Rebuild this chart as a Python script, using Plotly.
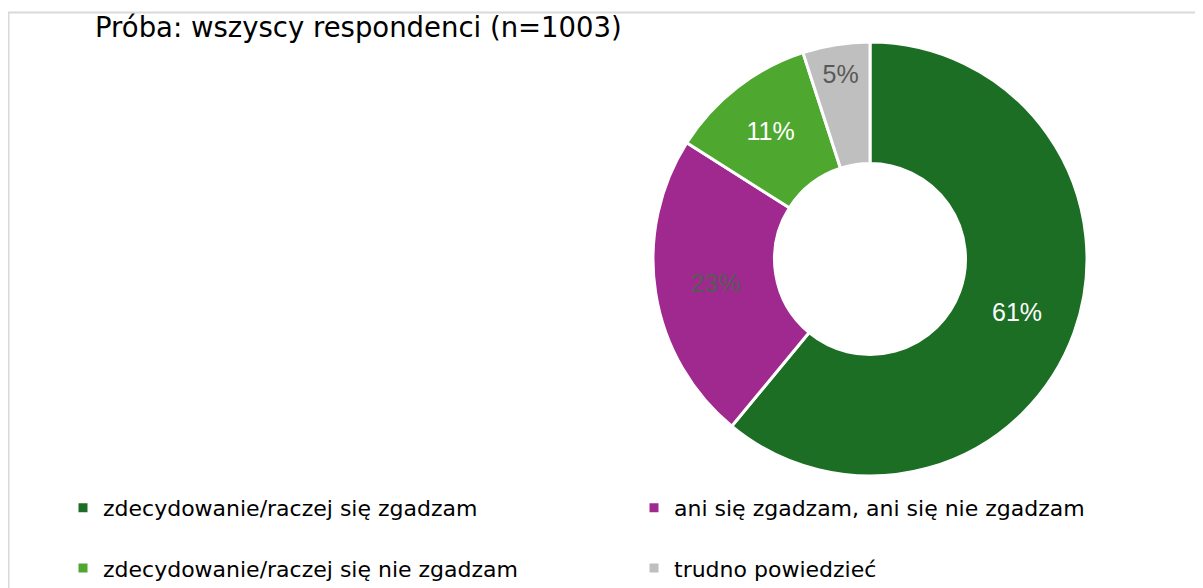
import plotly.graph_objects as go

labels = [
    "zdecydowanie/raczej się zgadzam",
    "ani się zgadzam, ani się nie zgadzam",
    "zdecydowanie/raczej się nie zgadzam",
    "trudno powiedzieć",
]
values = [61, 23, 11, 5]
colors = ["#1B6E23", "#A0298F", "#4EA72E", "#BFBFBF"]
text_colors = ["#FFFFFF", "#595959", "#FFFFFF", "#595959"]
title_text = "Próba: wszyscy respondenci (n=1003)"

# the page body adds an 8px offset; layout positions are in figure pixels
W, H = 1203, 588
cx, cy, r = 862, 251, 217

# a blank second line on the first legend row widens the row spacing
legend_labels = [lab + "<br> " if i < 2 else lab for i, lab in enumerate(labels)]

fig = go.Figure(
    go.Pie(
        labels=legend_labels,
        values=values,
        hole=0.44,
        sort=False,
        direction="clockwise",
        rotation=0,
        marker=dict(colors=colors, line=dict(color="#FFFFFF", width=3)),
        texttemplate="%{value}%",
        textposition="inside",
        insidetextorientation="horizontal",
        textfont=dict(family="Liberation Sans, Arial, sans-serif", size=25, color=text_colors),
        domain=dict(x=[(cx - r) / W, (cx + r) / W], y=[1 - (cy + r) / H, 1 - (cy - r) / H]),
        showlegend=True,
        hoverinfo="label+percent",
    )
)

fig.update_layout(
    width=W,
    height=H,
    margin=dict(l=0, r=0, t=0, b=0, autoexpand=False),
    paper_bgcolor="#FFFFFF",
    plot_bgcolor="#FFFFFF",
    title=dict(
        text=title_text,
        x=87 / W,
        xanchor="left",
        y=1 - 19 / H,
        yanchor="middle",
        xref="paper",
        yref="container",
        font=dict(family="DejaVu Sans", size=27.5, color="#000000"),
    ),
    legend=dict(
        orientation="h",
        x=55 / W,
        xanchor="left",
        y=1 - 479 / H,
        yanchor="top",
        valign="top",
        entrywidth=526,
        entrywidthmode="pixels",
        font=dict(family="DejaVu Sans", size=22, color="#000000"),
        bgcolor="rgba(0,0,0,0)",
    ),
    shapes=[
        dict(
            type="rect",
            xref="paper",
            yref="paper",
            x0=0.5 / W,
            x1=1.02,
            y0=-0.02,
            y1=1 - 4.5 / H,
            line=dict(color="#D9D9D9", width=2),
            fillcolor="rgba(0,0,0,0)",
            layer="below",
        )
    ],
)

fig.write_html("out.html")
